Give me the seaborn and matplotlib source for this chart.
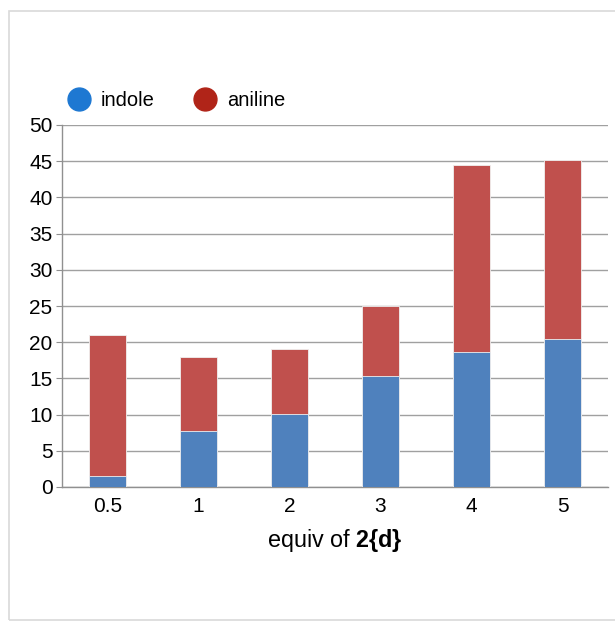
import pandas as pd
import seaborn as sns
import matplotlib.pyplot as plt
from matplotlib.lines import Line2D
from matplotlib.patches import Rectangle

# values
equiv = ['0.5', '1', '2', '3', '4', '5']
indole = [1.5, 7.8, 10.1, 15.3, 18.7, 20.5]
total = [21.0, 18.0, 19.1, 25.0, 44.5, 45.2]
aniline = [t - i for t, i in zip(total, indole)]

df = pd.DataFrame({'equiv': equiv, 'indole': indole, 'aniline': aniline})
df['total'] = df['indole'] + df['aniline']

sns.set_style('white')
plt.rcParams['font.family'] = ['Liberation Sans', 'DejaVu Sans']
plt.rcParams['mathtext.fontset'] = 'custom'
plt.rcParams['mathtext.rm'] = 'Liberation Sans'
plt.rcParams['mathtext.bf'] = 'Liberation Sans:bold'
plt.rcParams['text.color'] = 'black'

fig = plt.figure(figsize=(6.15, 6.22), dpi=100)
ax = fig.add_axes([62 / 615, 1 - 487 / 622, 546 / 615, 362 / 622])

# light frame around the chart
fig.patches.append(Rectangle((9 / 615, 0.003), 1.0, 0.979, transform=fig.transFigure,
                             fill=False, edgecolor='#d9d9d9', linewidth=1.2))

# stacked bars: total (aniline colour) first, then indole over it
sns.barplot(data=df, x='equiv', y='total', order=equiv, color='#C0504D',
            saturation=1, width=0.4, edgecolor='#f0f0f0', linewidth=0.6, ax=ax, zorder=3)
sns.barplot(data=df, x='equiv', y='indole', order=equiv, color='#4F81BD',
            saturation=1, width=0.4, edgecolor='#f0f0f0', linewidth=0.6, ax=ax, zorder=4)

ax.set_xlim(-0.5, 5.5)
ax.set_ylim(0, 50)
ax.set_yticks(range(0, 51, 5))
ax.yaxis.grid(True, color='#a0a0a0', linewidth=1)
ax.set_axisbelow(True)

for s in ['top', 'right']:
    ax.spines[s].set_visible(False)
for s in ['left', 'bottom']:
    ax.spines[s].set_color('#909090')
    ax.spines[s].set_linewidth(1)

ax.set_xticks([i - 0.5 for i in range(7)], minor=True)
ax.tick_params(axis='x', which='major', length=0, labelsize=15, pad=7, labelcolor='black')
ax.tick_params(axis='x', which='minor', length=4.3, color='#909090', direction='out')
ax.tick_params(axis='y', length=4.3, color='#909090', direction='out', labelsize=15,
               pad=2.5, labelcolor='black')
ax.tick_params(left=True, bottom=True)

ax.set_ylabel('')
ax.set_xlabel(r'equiv of $\mathbf{2\{d\}}$', fontsize=16.8, labelpad=8, color='black')

handles = [Line2D([], [], marker='o', linestyle='', markersize=16.5, color='#1E78D2'),
           Line2D([], [], marker='o', linestyle='', markersize=16.5, color='#B02418')]
fig.legend(handles, ['indole', 'aniline'], loc='center left', ncol=2,
           bbox_to_anchor=(66.5 / 615, 1 - 100.5 / 622), frameon=False, fontsize=14.5,
           borderpad=0, borderaxespad=0, handletextpad=0.47, columnspacing=1.94,
           handlelength=1.2)

fig.savefig('out.png', dpi=100)
